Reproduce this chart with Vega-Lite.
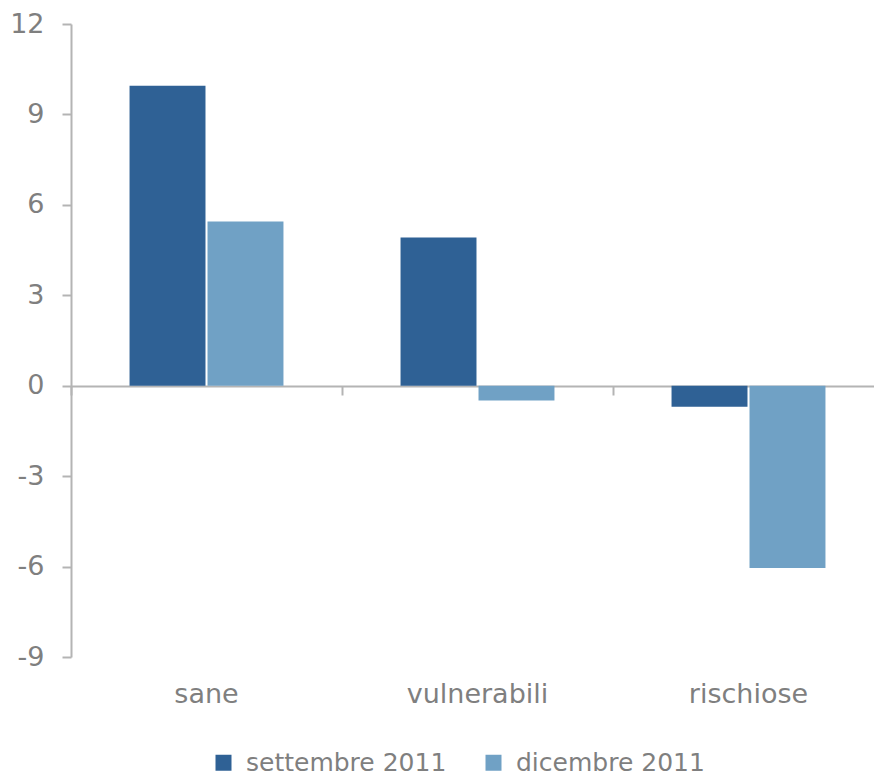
{
  "$schema": "https://vega.github.io/schema/vega-lite/v6.json",
  "width": 803,
  "height": 633,
  "autosize": {"type": "none"},
  "padding": {"left": 71, "top": 24, "right": 0, "bottom": 119},
  "config": {"view": {"stroke": null}, "font": "DejaVu Sans"},
  "data": {
    "values": [
      {"categoria": "sane", "periodo": "settembre 2011", "valore": 9.95},
      {"categoria": "sane", "periodo": "dicembre 2011", "valore": 5.45},
      {"categoria": "vulnerabili", "periodo": "settembre 2011", "valore": 4.92},
      {"categoria": "vulnerabili", "periodo": "dicembre 2011", "valore": -0.49},
      {"categoria": "rischiose", "periodo": "settembre 2011", "valore": -0.7},
      {"categoria": "rischiose", "periodo": "dicembre 2011", "valore": -6.05}
    ]
  },
  "layer": [
    {
      "mark": {"type": "bar"},
      "encoding": {
        "x": {
          "field": "categoria", "type": "nominal",
          "sort": ["sane", "vulnerabili", "rischiose"],
          "scale": {"range": [0, 813], "paddingInner": 0.432, "paddingOuter": 0.216},
          "axis": {"title": null, "orient": "bottom", "domain": false, "ticks": false, "labelAngle": 0, "labelFontSize": 27, "labelColor": "#7F7F7F", "labelPadding": 24}
        },
        "xOffset": {
          "field": "periodo", "type": "nominal",
          "sort": ["settembre 2011", "dicembre 2011"],
          "scale": {"paddingInner": 0.026}
        },
        "y": {
          "field": "valore", "type": "quantitative",
          "scale": {"domain": [-9, 12], "nice": false, "zero": false},
          "axis": {"title": null, "values": [-9, -6, -3, 0, 3, 6, 9, 12], "labelExpr": "toString(datum.value)", "grid": false, "domainColor": "#B4B4B4", "domainWidth": 2, "tickColor": "#B4B4B4", "tickWidth": 2, "tickSize": 9, "labelFontSize": 27, "labelColor": "#7F7F7F", "labelPadding": 18}
        },
        "color": {
          "field": "periodo", "type": "nominal",
          "sort": ["settembre 2011", "dicembre 2011"],
          "scale": {"domain": ["settembre 2011", "dicembre 2011"], "range": ["#2F6195", "#70A1C5"]},
          "legend": {"title": null, "orient": "none", "legendX": 140, "legendY": 726, "direction": "horizontal", "symbolType": "square", "symbolSize": 256, "symbolStrokeWidth": 0, "labelFontSize": 25, "labelColor": "#7F7F7F", "labelOffset": 10, "labelLimit": 0, "columnPadding": 34}
        }
      }
    },
    {
      "mark": {"type": "rule", "opacity": 0},
      "encoding": {
        "x": {
          "field": "categoria", "type": "nominal",
          "sort": ["sane", "vulnerabili", "rischiose"],
          "scale": {"range": [0, 813], "paddingInner": 0, "paddingOuter": 0},
          "axis": {"title": null, "orient": "bottom", "labels": false, "offset": -271, "tickBand": "extent", "tickSize": 9, "domainColor": "#B4B4B4", "tickColor": "#B4B4B4", "domainWidth": 2, "tickWidth": 2}
        },
        "y": {"datum": 0, "type": "quantitative"}
      }
    }
  ],
  "resolve": {"scale": {"x": "independent"}, "axis": {"x": "independent"}}
}
